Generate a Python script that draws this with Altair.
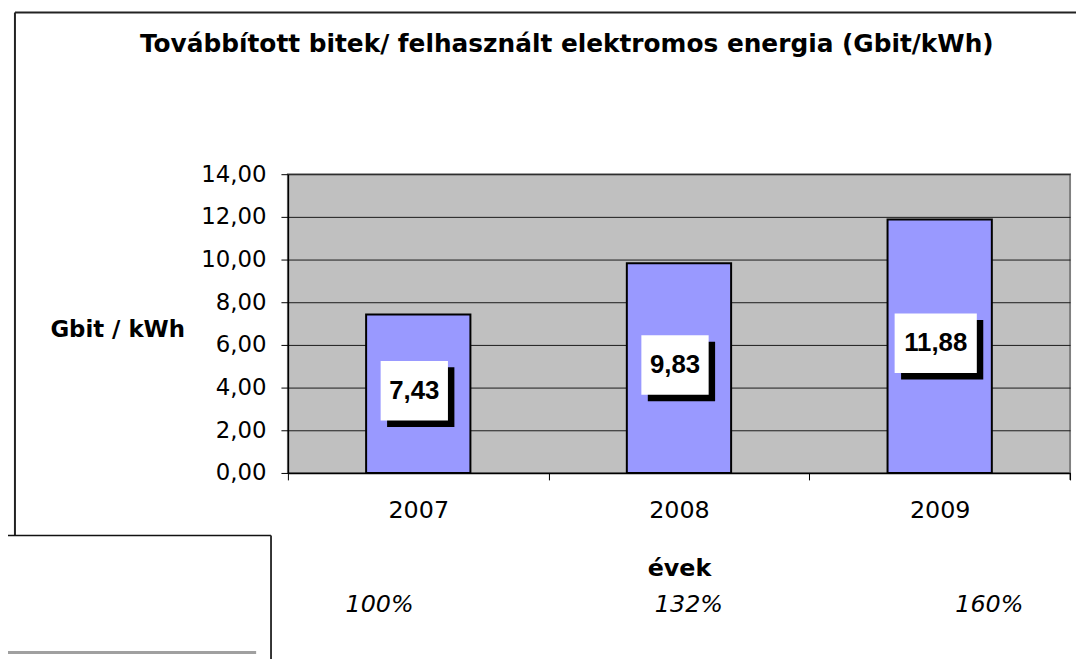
import altair as alt
import pandas as pd

years = ["2007", "2008", "2009"]
values = [7.43, 9.83, 11.88]
labels = ["7,43", "9,83", "11,88"]
percents = ["100%", "132%", "160%"]
y_ticks = [0, 2, 4, 6, 8, 10, 12, 14]

df = pd.DataFrame({"year": years, "value": values, "label": labels, "pct": percents})

W, H = 788, 301
FONT = "DejaVu Sans"

x_scale = alt.Scale(paddingInner=0, paddingOuter=0)
y_scale = alt.Scale(domain=[0, 14], nice=False)

x_axis = alt.Axis(
    title="évek", titleFont=FONT, titleFontSize=24, titleFontWeight="bold",
    titleColor="black", titleBaseline="alphabetic", titleY=103,
    labelFont=FONT, labelFontSize=24, labelColor="black", labelAngle=0,
    labelBaseline="alphabetic", labelPadding=38,
    tickBand="extent", tickColor="black", tickSize=7, tickWidth=1,
    domainColor="black", domainWidth=1.5, grid=False,
)
y_axis = alt.Axis(
    title="Gbit / kWh", titleFont=FONT, titleFontSize=23, titleFontWeight="bold",
    titleColor="black", titleAngle=0, titleAlign="center", titleBaseline="middle",
    titleX=-172, titleY=157,
    values=y_ticks, labelExpr="replace(format(datum.value, '.2f'), '.', ',')",
    labelFont=FONT, labelFontSize=23, labelColor="black", labelPadding=15,
    tickColor="black", tickSize=7, tickWidth=1,
    domainColor="black", domainWidth=1.5,
    grid=True, gridColor="#1a1a1a", gridWidth=1,
)

base = alt.Chart(df)
X = alt.X("year:N", scale=x_scale, axis=x_axis)

bars = base.mark_bar(
    width=alt.RelativeBandSize(0.4), fill="#9999FF", stroke="black", strokeWidth=2
).encode(x=X, y=alt.Y("value:Q", scale=y_scale, axis=y_axis))

lab = base.transform_calculate(
    mid="datum.value / 2",
    box="length(datum.label) > 4 ? 'M-1.38,-1H1.38V1H-1.38Z' : 'M-1.13,-1H1.13V1H-1.13Z'",
)
lab_enc = dict(
    x=alt.X("year:N", scale=x_scale),
    y=alt.Y("mid:Q", scale=y_scale),
    shape=alt.Shape("box:N", scale=None, legend=None),
)
shadow = lab.mark_point(
    filled=True, opacity=1, size=3600, color="black", strokeWidth=0,
    xOffset=2.5, yOffset=3.5,
).encode(**lab_enc)
box = lab.mark_point(
    filled=True, opacity=1, size=3600, color="white", strokeWidth=0,
    xOffset=-4, yOffset=-3,
).encode(**lab_enc)
txt = lab.mark_text(
    font="Liberation Sans", fontSize=26, fontWeight="bold", color="black",
    baseline="middle", align="center", xOffset=-4, yOffset=-3,
).encode(x=alt.X("year:N", scale=x_scale), y=alt.Y("mid:Q", scale=y_scale), text="label:N")

pct_dx = {"2007": -39, "2008": 10, "2009": 50}
pct_layers = [
    base.transform_filter(alt.datum.year == yr).mark_text(
        font=FONT, fontSize=24, fontStyle="italic", color="black",
        baseline="alphabetic", align="center", dx=d,
    ).encode(x=alt.X("year:N", scale=x_scale), y=alt.value(441), text="pct:N")
    for yr, d in pct_dx.items()
]

one = alt.Data(values=[{"k": 1}])


def hline(x1, x2, y, color="black", sw=1.5):
    return alt.Chart(one).mark_rule(color=color, strokeWidth=sw).encode(
        x=alt.value(x1), x2=alt.value(x2), y=alt.value(y))


def vline(x, y1, y2, color="black", sw=1.5):
    return alt.Chart(one).mark_rule(color=color, strokeWidth=sw).encode(
        x=alt.value(x), y=alt.value(y1), y2=alt.value(y2))


frame = [
    vline(-275, -163, 364, color="#222222", sw=2),
    hline(-275, 800, -163, color="#222222", sw=2),
    hline(-300, -17, 364, color="#111111", sw=1.5),
    vline(-17, 364, 500, color="#333333", sw=2),
    hline(-300, -32, 482, color="#a0a0a0", sw=3),
    vline(W, H, H + 7, color="black", sw=1),
]

chart = alt.layer(
    bars, shadow, box, txt, *pct_layers, *frame
).properties(
    width=W, height=H,
    title=alt.TitleParams(
        "Továbbított bitek/ felhasznált elektromos energia (Gbit/kWh)",
        font=FONT, fontSize=25, fontWeight="bold", color="black",
        anchor="middle", frame="group", baseline="alphabetic", offset=0, dy=66, dx=-113,
    ),
    autosize=alt.AutoSizeParams(type="none"),
    padding={"left": 282, "top": 165, "right": 6, "bottom": 185},
    background="white",
).configure_view(
    fill="#C0C0C0", stroke="#808080", strokeWidth=2
)

chart.save("out.html", embed_options={"renderer": "svg", "actions": False})
